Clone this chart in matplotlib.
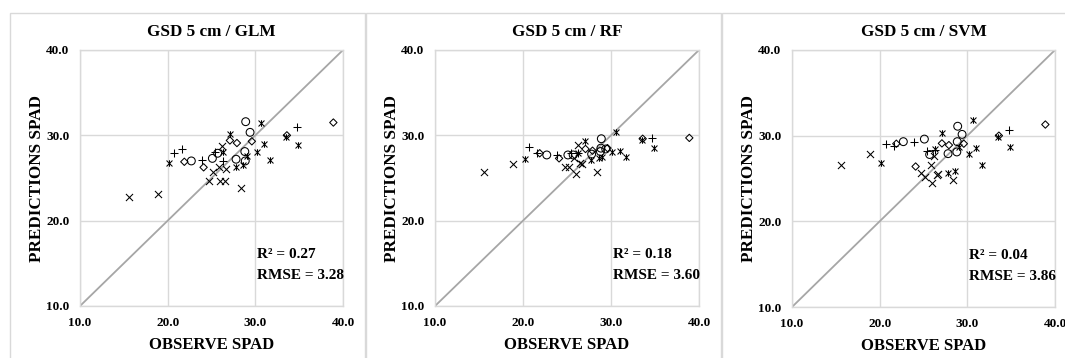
import matplotlib
matplotlib.use("Agg")
import matplotlib.pyplot as plt
from matplotlib.path import Path
from matplotlib.patches import Rectangle

plt.rcParams['font.family'] = ['Liberation Serif', 'DejaVu Serif']
plt.rcParams['font.weight'] = 'bold'

# ---- data (observed SPAD shared by all models, predictions per model) ----
obs_x = [15.6, 18.9, 24.75, 25.2, 25.8, 26.0, 26.2, 26.5, 26.7, 28.4]
glm_x = [22.8, 23.1, 24.65, 25.65, 26.3, 24.7, 28.7, 24.7, 26.1, 23.8]
rf_x = [25.7, 26.6, 26.3, 26.3, 27.3, 25.5, 28.9, 26.7, 26.6, 25.7]
svm_x = [26.6, 27.9, 25.7, 25.2, 26.6, 24.5, 27.6, 25.4, 25.5, 24.8]

obs_star = [20.2, 26.3, 27.1, 27.76, 28.6, 29.0, 30.15, 30.6, 31.0, 31.7, 33.5, 34.9]
glm_star = [26.7, 28.1, 30.1, 26.25, 26.5, 27.6, 28.0, 31.4, 29.0, 27.1, 29.8, 28.9]
rf_star = [27.2, 27.9, 29.3, 27.1, 27.3, 27.5, 28.1, 30.35, 28.2, 27.5, 29.4, 28.55]
svm_star = [26.8, 28.4, 30.3, 25.7, 25.9, 28.7, 27.9, 31.8, 28.6, 26.6, 29.8, 28.7]

obs_plus = [20.7, 21.6, 23.9, 25.4, 26.3, 34.7]
glm_plus = [27.9, 28.4, 27.1, 28.1, 27.0, 31.0]
rf_plus = [28.6, 27.9, 27.7, 27.9, 27.9, 29.7]
svm_plus = [29.06, 28.8, 29.3, 28.16, 28.3, 30.7]

obs_circle = [22.7, 25.1, 25.7, 27.8, 28.8, 28.85, 28.9, 29.4]
glm_circle = [27.0, 27.3, 27.9, 27.2, 28.1, 27.0, 31.6, 30.35]
rf_circle = [27.7, 27.7, 27.7, 27.8, 28.1, 28.5, 29.6, 28.4]
svm_circle = [29.3, 29.6, 27.8, 27.9, 28.1, 29.3, 31.1, 30.15]

obs_diamond = [21.9, 24.1, 27.1, 27.9, 29.6, 33.6, 38.9]
glm_diamond = [26.9, 26.25, 29.4, 29.1, 29.3, 30.0, 31.5]
rf_diamond = [27.9, 27.3, 28.4, 28.2, 28.5, 29.6, 29.7]
svm_diamond = [29.06, 26.4, 29.1, 28.9, 29.06, 30.0, 31.3]

titles = ["GSD 5 cm / GLM", "GSD 5 cm / RF", "GSD 5 cm / SVM"]
r2_vals = ["0.27", "0.18", "0.04"]
rmse_vals = ["3.28", "3.60", "3.86"]
ticks = [10.0, 20.0, 30.0, 40.0]
tick_labels = ["10.0", "20.0", "30.0", "40.0"]
x_label = "OBSERVE SPAD"
y_label = "PREDICTIONS SPAD"

preds = [
    (glm_x, glm_star, glm_plus, glm_circle, glm_diamond),
    (rf_x, rf_star, rf_plus, rf_circle, rf_diamond),
    (svm_x, svm_star, svm_plus, svm_circle, svm_diamond),
]

star_marker = Path(
    [(-1, -1), (1, 1), (-1, 1), (1, -1), (0, -1.1), (0, 1.1)],
    [Path.MOVETO, Path.LINETO, Path.MOVETO, Path.LINETO, Path.MOVETO, Path.LINETO],
)

W, H = 1065, 358
fig = plt.figure(figsize=(W / 100, H / 100), dpi=100)
fig.patch.set_facecolor("white")

# panel frames
frames = [(10, 13, 355, 360), (366, 13, 355, 360), (722, 13, 360, 360)]
for fx, fy, fw, fh in frames:
    fig.patches.append(Rectangle((fx / W, 1 - (fy + fh) / H), fw / W, fh / H,
                                 transform=fig.transFigure, fill=False,
                                 edgecolor="#d9d9d9", linewidth=1.0))

axes_px = [(80, 50, 263, 256), (435, 50, 264, 256), (792, 50, 263, 257)]
grey = "#d9d9d9"

for i, (px, py, pw, ph) in enumerate(axes_px):
    ax = fig.add_axes([px / W, 1 - (py + ph) / H, pw / W, ph / H])
    ax.set_xlim(10, 40)
    ax.set_ylim(10, 40)
    ax.set_xticks(ticks)
    ax.set_yticks(ticks)
    ax.set_xticklabels(tick_labels, fontsize=9.5, fontweight="bold")
    ax.set_yticklabels(tick_labels, fontsize=9.5, fontweight="bold")
    ax.tick_params(axis="x", length=0, pad=8)
    ax.tick_params(axis="y", length=0, pad=7.5)
    ax.grid(True, color=grey, linewidth=1.0)
    for s in ax.spines.values():
        s.set_color(grey)
        s.set_linewidth(1.0)
    ax.set_axisbelow(True)
    ax.plot([10, 40], [10, 40], color="#a6a6a6", linewidth=1.3, zorder=1)

    px_, ps_, pp_, pc_, pd_ = preds[i]
    kw = dict(color="black", linewidth=0.75, zorder=3)
    ax.scatter(obs_x, px_, marker="x", s=26, **kw)
    ax.scatter(obs_star, ps_, marker=star_marker, s=22, **kw)
    ax.scatter(obs_plus, pp_, marker="+", s=32, **kw)
    ax.scatter(obs_circle, pc_, marker="o", s=32, facecolors="none",
               edgecolors="black", linewidths=0.75, zorder=3)
    ax.scatter(obs_diamond, pd_, marker="D", s=14, facecolors="none",
               edgecolors="black", linewidths=0.75, zorder=3)

    ax.set_title(titles[i], fontsize=12.3, fontweight="bold", pad=10)
    ax.set_xlabel(x_label, fontsize=12, fontweight="bold")
    ax.set_ylabel(y_label, fontsize=12.3, fontweight="bold")
    ax.xaxis.set_label_coords(0.5, (306 - 345) / 256)
    ax.xaxis.label.set_va("center")
    ax.yaxis.set_label_coords((36.7 - 80) / 263, 0.5)
    ax.yaxis.label.set_va("center")
    ax.text(30.2, 16.0, "R\u00b2 = " + r2_vals[i], fontsize=11, fontweight="bold",
            va="center", ha="left")
    ax.text(30.2, 13.6, "RMSE = " + rmse_vals[i], fontsize=11, fontweight="bold",
            va="center", ha="left")

fig.savefig("out.png", dpi=100)
